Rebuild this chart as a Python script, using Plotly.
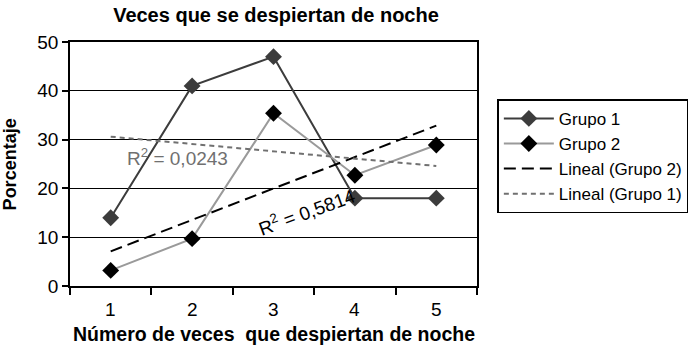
import numpy as np
import plotly.graph_objects as go

categorias = ["1", "2", "3", "4", "5"]
grupo1 = [14, 41, 47, 18, 18]
grupo2 = [3.2, 9.7, 35.4, 22.7, 28.9]
r2_grupo1 = "R<sup>2</sup> = 0,0243"
r2_grupo2 = "R<sup>2</sup> = 0,5814"
y_ticks = [0, 10, 20, 30, 40, 50]

xn = np.arange(1, len(categorias) + 1)
p1 = np.polyfit(xn, grupo1, 1)
p2 = np.polyfit(xn, grupo2, 1)
trend1 = list(np.polyval(p1, xn))
trend2 = list(np.polyval(p2, xn))

FONT = "Liberation Sans, Arial, sans-serif"

fig = go.Figure()
fig.add_trace(go.Scatter(
    x=categorias, y=grupo1, name="Grupo 1", mode="lines+markers",
    line=dict(color="#3c3c3c", width=2),
    marker=dict(symbol="diamond", size=13, color="#3c3c3c"),
    legendgroup="a"))
fig.add_trace(go.Scatter(
    x=categorias, y=grupo2, name="Grupo 2", mode="lines+markers",
    line=dict(color="#9a9a9a", width=2),
    marker=dict(symbol="diamond", size=13, color="#000000"),
    legendgroup="b"))
fig.add_trace(go.Scatter(
    x=categorias, y=trend2, name="Lineal (Grupo 2)", mode="lines",
    line=dict(color="#000000", width=2, dash="12px,6px"),
    legendgroup="c"))
fig.add_trace(go.Scatter(
    x=categorias, y=trend1, name="Lineal (Grupo 1)", mode="lines",
    line=dict(color="#707070", width=2, dash="5px,4px"),
    legendgroup="d"))

fig.add_annotation(x=0.82, y=26.4, xref="x", yref="y", text=r2_grupo1,
                   showarrow=False, font=dict(family=FONT, size=19, color="#707070"))
fig.add_annotation(x=2.41, y=15.3, xref="x", yref="y", text=r2_grupo2,
                   showarrow=False, textangle=-20,
                   font=dict(family=FONT, size=19, color="#000000"))
fig.add_annotation(x=(9.5 - 70) / 413, y=0.5, xref="paper", yref="paper",
                   text="<b>Porcentaje</b>", textangle=-90, showarrow=False,
                   xanchor="center", yanchor="middle",
                   font=dict(family=FONT, size=18, color="#000000"))
# x tick labels (category names) under each category (category index positions)
for i, c in enumerate(categorias):
    fig.add_annotation(x=i, y=0, xref="x", yref="paper", text=c, showarrow=False,
                       xanchor="center", yanchor="top", yshift=-11,
                       font=dict(family=FONT, size=19, color="#000000"))
fig.add_annotation(x=0.5, y=0, xref="paper", yref="paper",
                   text="<b>Número de veces\u00a0 que despiertan de noche</b>",
                   showarrow=False, xanchor="center", yanchor="top", yshift=-35,
                   font=dict(family=FONT, size=19.5, color="#000000"))

fig.update_layout(
    width=700, height=345,
    margin=dict(l=70, r=217, t=42, b=59),
    paper_bgcolor="white", plot_bgcolor="white",
    font=dict(family=FONT, size=19, color="#000000"),
    title=dict(text="<b>Veces que se despiertan de noche</b>",
               x=(70 + 206) / 700, xanchor="center", y=1 - 15 / 345, yanchor="middle",
               font=dict(family=FONT, size=20, color="#000000")),
    showlegend=True,
    legend=dict(x=1.05, y=0.765, xanchor="left", yanchor="top",
                bordercolor="#000000", borderwidth=1.5, bgcolor="white",
                font=dict(family=FONT, size=17, color="#000000"),
                tracegroupgap=6, traceorder="normal", itemwidth=50),
    xaxis=dict(type="category", range=[-0.5, 4.5], tickson="boundaries",
               ticks="outside", ticklen=7, tickcolor="#000", tickwidth=1.5,
               showticklabels=False,
               showline=True, linecolor="#000", linewidth=1.5, mirror=True,
               showgrid=False, zeroline=False, automargin=False),
    yaxis=dict(range=[0, 50], tickvals=y_ticks, ticks="outside", ticklen=6,
               tickcolor="#000", tickwidth=1.5,
               showline=True, linecolor="#000", linewidth=1.5, mirror=True,
               showgrid=True, gridcolor="#000", gridwidth=1.2, zeroline=False,
               automargin=False, tickfont=dict(family=FONT, size=19)),
)

fig.write_html("out.html", config={"displayModeBar": False},
               post_script="document.body.style.margin='0';document.body.style.overflow='hidden';")
